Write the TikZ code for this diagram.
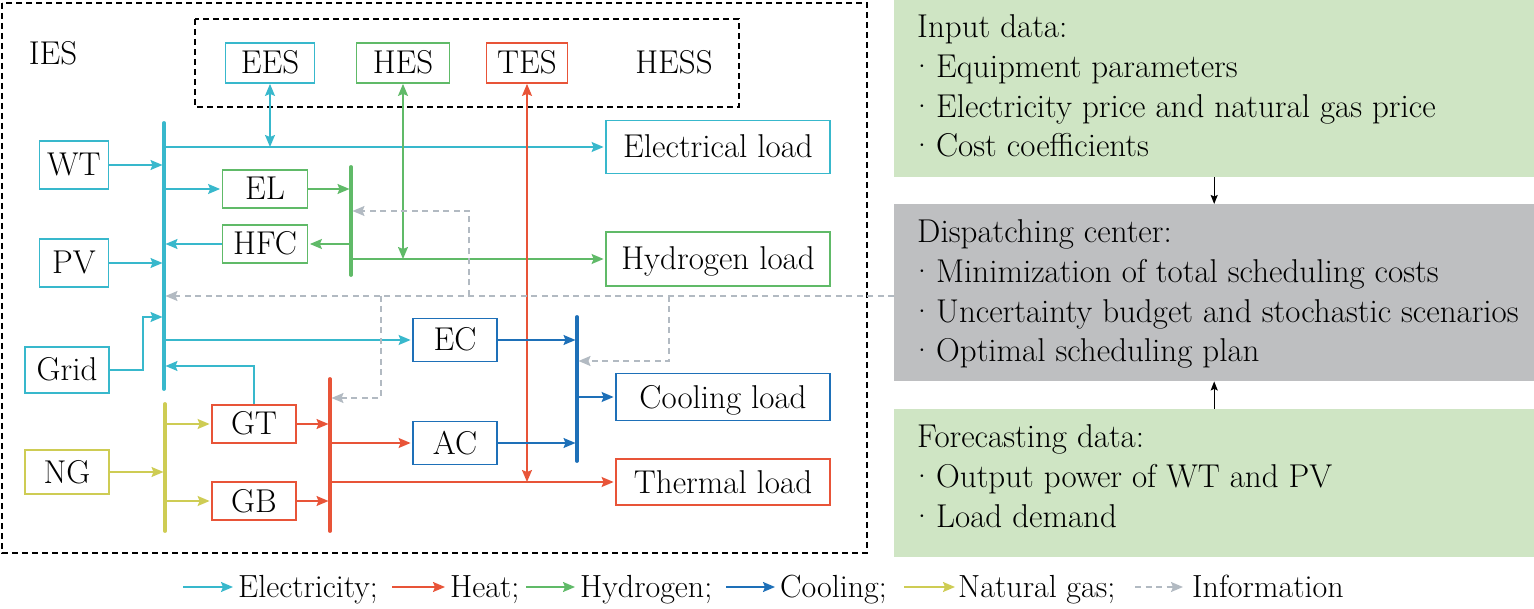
\documentclass[tikz,border=0pt]{standalone}
\usepackage{fontspec}
\usetikzlibrary{arrows.meta,calc}
\definecolor{ce}{RGB}{56,184,204}
\definecolor{ch}{RGB}{232,84,56}
\definecolor{cg}{RGB}{96,186,104}
\definecolor{cc}{RGB}{30,112,184}
\definecolor{cy}{RGB}{206,204,84}
\definecolor{ci}{RGB}{178,186,194}
\definecolor{fgreen}{RGB}{207,229,196}
\definecolor{fgray}{RGB}{190,191,193}
\newcommand\mybul{\makebox[19pt][l]{\hspace{-7pt}·}}
\tikzset{
  bx/.style 2 args={draw,line width=1.8pt,minimum width=#1,minimum height=#2,inner sep=0pt,text height=22pt,text depth=0pt},
  lbl/.style={inner sep=0pt,text height=22pt,text depth=0pt},
  tip/.style={-{Stealth[length=12pt,width=10pt,inset=2pt]}},
  dtip/.style={{Stealth[length=12pt,width=10pt,inset=2pt]}-{Stealth[length=12pt,width=10pt,inset=2pt]}},
  conn/.style={line width=1.6pt,tip,shorten >=1.5pt},
  ea/.style={conn,ce},
  ha/.style={conn,ch},
  ga/.style={conn,cg},
  ca/.style={conn,cc},
  ya/.style={conn,cy},
  ia/.style={conn,ci,dash pattern=on 6pt off 4.5pt},
  bus/.style={line width=3.8pt,line cap=round},
  frame/.style={line width=1.6pt,dash pattern=on 6pt off 4pt},
  txt/.style={anchor=base west,inner sep=0pt},
  blk/.style={line width=1.3pt,-{Stealth[length=9pt,width=7pt,inset=1.5pt]}},
}
\begin{document}
\begin{tikzpicture}[x=1pt,y=-1pt,font=\fontsize{33}{39.5}\selectfont]
\useasboundingbox (0,0) rectangle (1534,609);
% frames
\draw[frame] (2,3) rectangle (867,553);
\draw[frame] (195,19) rectangle (739,107);
\node[lbl] (ies) at (53,54) {IES};
\node[lbl] (hess) at (674,63) {HESS};
% storage
\node[bx={89pt}{40pt},draw=ce] (ees) at (270,63) {EES};
\node[bx={93pt}{40pt},draw=cg] (hes) at (403,63) {HES};
\node[bx={81pt}{40pt},draw=ch] (tes) at (527,63) {TES};
% loads
\node[bx={224pt}{53pt},draw=ce] (eload) at (718,147) {Electrical load};
\node[bx={224pt}{54pt},draw=cg] (hload) at (718,259) {Hydrogen load};
\node[bx={214pt}{47pt},draw=cc] (cload) at (723,397) {Cooling load};
\node[bx={214pt}{46pt},draw=ch] (tload) at (723,482) {Thermal load};
% sources
\node[bx={69pt}{48pt},draw=ce] (wt) at (74,165) {WT};
\node[bx={69pt}{48pt},draw=ce] (pv) at (74,263) {PV};
\node[bx={84pt}{46pt},draw=ce] (grid) at (67,370) {Grid};
\node[bx={84pt}{44pt},draw=cy] (ng) at (67,472) {NG};
% converters
\node[bx={85pt}{38pt},draw=cg] (el) at (265,189) {EL};
\node[bx={85pt}{38pt},draw=cg] (hfc) at (265,244) {HFC};
\node[bx={84pt}{43pt},draw=cc] (ec) at (455,340) {EC};
\node[bx={84pt}{43pt},draw=cc] (ac) at (455,443) {AC};
\node[bx={84pt}{38pt},draw=ch] (gt) at (254,424) {GT};
\node[bx={84pt}{38pt},draw=ch] (gb) at (254,501) {GB};
% buses
\coordinate (eb1) at (164,123); \coordinate (eb2) at (164,389);
\coordinate (hb1) at (351,167); \coordinate (hb2) at (351,275);
\coordinate (sb1) at (165,404); \coordinate (sb2) at (165,531);
\coordinate (tb1) at (330,379); \coordinate (tb2) at (330,531);
\coordinate (cb1) at (577,317); \coordinate (cb2) at (577,461);
\draw[bus,ce] (eb1) -- (eb2);
\draw[bus,cg] (hb1) -- (hb2);
\draw[bus,cy] (sb1) -- (sb2);
\draw[bus,ch] (tb1) -- (tb2);
\draw[bus,cc] (cb1) -- (cb2);
% electricity
\draw[ea] (wt.east) -- (wt -| eb1);
\draw[ea] (pv.east) -- (pv -| eb1);
\draw[ea] (eb1 |- eload) -- (eload.west);
\draw[line width=1.6pt,ce,dtip] (ees.south) -- (ees.south |- eload);
\draw[ea] (eb1 |- el) -- (el.west);
\draw[ea] (hfc.west) -- (hfc -| eb1);
\coordinate (gj) at (143,317);
\draw[ea] (grid.east) -| (gj) -- (gj -| eb1);
\draw[ea] (eb1 |- ec) -- (ec.west);
\coordinate (gtj) at (164,366);
\draw[ea] (gt.north) |- (gtj);
% hydrogen
\draw[ga] (el.east) -- (el -| hb1);
\draw[ga] (hfc -| hb1) -- (hfc.east);
\draw[ga] (hb1 |- hload) -- (hload.west);
\draw[line width=1.6pt,cg,dtip] (hes.south) -- (hes.south |- hload);
% gas
\draw[ya] (ng.east) -- (ng -| sb1);
\draw[ya] (sb1 |- gt) -- (gt.west);
\draw[ya] (sb1 |- gb) -- (gb.west);
% heat
\draw[ha] (gt.east) -- (gt -| tb1);
\draw[ha] (gb.east) -- (gb -| tb1);
\draw[ha] (tb1 |- ac) -- (ac.west);
\draw[ha] (tb1 |- tload) -- (tload.west);
\draw[line width=1.6pt,ch,dtip] (tes.south) -- (tes.south |- tload);
% cooling
\draw[ca] (ec.east) -- (ec -| cb1);
\draw[ca] (ac.east) -- (ac -| cb1);
\draw[ca] (cb1 |- cload) -- (cload.west);
% right panel
\node[fill=fgreen,minimum width=640pt,minimum height=177pt,inner sep=0pt,anchor=north west] (inp) at (894,0) {};
\node[fill=fgray,minimum width=640pt,minimum height=177pt,inner sep=0pt,anchor=north west] (dc) at (894,204) {};
\node[fill=fgreen,minimum width=640pt,minimum height=148pt,inner sep=0pt,anchor=north west] (fc) at (894,409) {};
\draw[blk] (inp.south) -- (dc.north);
\draw[blk] (fc.north) -- (dc.south);
\node[txt] (i1) at (917,38) {Input data:};
\node[txt] (i2) at (917,78) {\mybul Equipment parameters};
\node[txt] (i3) at (917,118) {\mybul Electricity price and natural gas price};
\node[txt] (i4) at (917,157) {\mybul Cost coefficients};
\node[txt] (d1) at (917,243) {Dispatching center:};
\node[txt] (d2) at (917,283) {\mybul Minimization of total scheduling costs};
\node[txt] (d3) at (917,323) {\mybul Uncertainty budget and stochastic scenarios};
\node[txt] (d4) at (917,362) {\mybul Optimal scheduling plan};
\node[txt] (f1) at (917,447) {Forecasting data:};
\node[txt] (f2) at (917,487) {\mybul Output power of WT and PV};
\node[txt] (f3) at (917,527) {\mybul Load demand};
% information
\coordinate (ir) at (dc.west |- 0,296);
\draw[ia] (ir) -- (ir -| eb1);
\coordinate (ib1) at (469,296); \coordinate (hbi) at (351,211);
\draw[ia] (ib1) |- (hbi);
\coordinate (ib2) at (381,296); \coordinate (tbi) at (330,398);
\draw[ia] (ib2) |- (tbi);
\coordinate (ib3) at (669,296); \coordinate (cbi) at (577,361);
\draw[ia] (ib3) |- (cbi);
% legend
\begin{scope}[font=\fontsize{32}{36}\selectfont]
\coordinate (la1) at (183,587); \coordinate (lb1) at (233,587);
\coordinate (la2) at (392,587); \coordinate (lb2) at (445,587);
\coordinate (la3) at (526,587); \coordinate (lb3) at (575,587);
\coordinate (la4) at (726,587); \coordinate (lb4) at (775,587);
\coordinate (la5) at (904,587); \coordinate (lb5) at (955,587);
\coordinate (la6) at (1135,587); \coordinate (lb6) at (1183,587);
\draw[ea,shorten >=0pt] (la1) -- (lb1);
\draw[ha,shorten >=0pt] (la2) -- (lb2);
\draw[ga,shorten >=0pt] (la3) -- (lb3);
\draw[ca,shorten >=0pt] (la4) -- (lb4);
\draw[ya,shorten >=0pt] (la5) -- (lb5);
\draw[ia,shorten >=0pt] (la6) -- (lb6);
\node[txt] (t1) at (238,597) {Electricity;};
\node[txt] (t2) at (450,597) {Heat;};
\node[txt] (t3) at (580,597) {Hydrogen;};
\node[txt] (t4) at (780,597) {Cooling;};
\node[txt] (t5) at (958,597) {Natural gas;};
\node[txt] (t6) at (1192,597) {Information};
\end{scope}
\end{tikzpicture}
\end{document}
